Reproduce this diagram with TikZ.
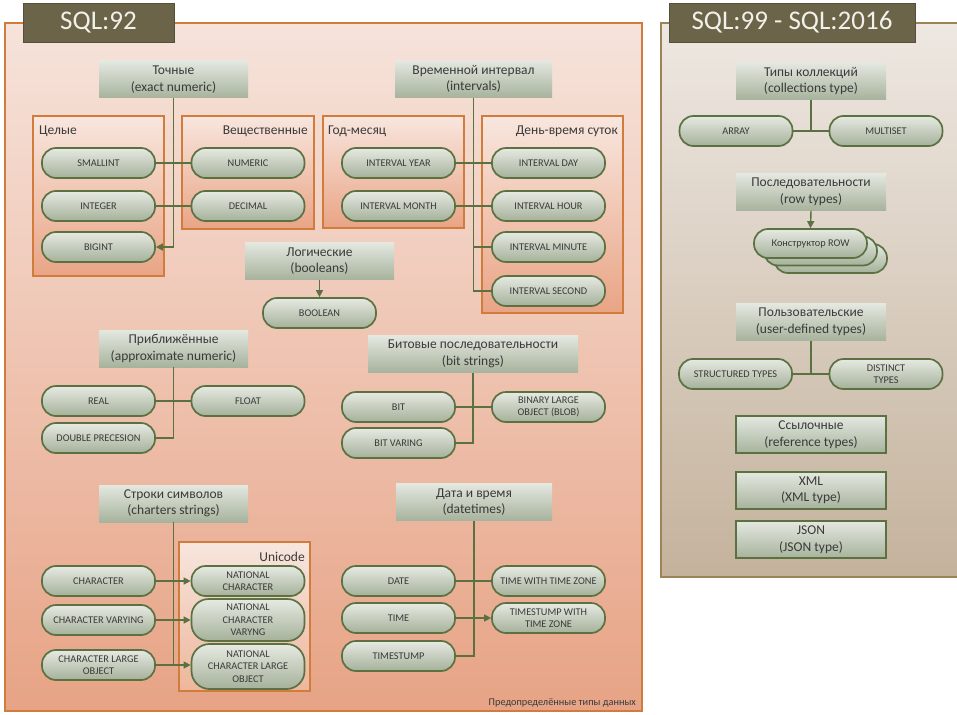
\documentclass[tikz,border=0pt]{standalone}
\usepackage{fontspec}
\setmainfont{Carlito}
\usetikzlibrary{arrows.meta}
\definecolor{lpTop}{HTML}{F6E3DB}
\definecolor{lpBot}{HTML}{E7A385}
\definecolor{orangeLn}{HTML}{D17C3C}
\definecolor{ibTop}{HTML}{F8E6DE}
\definecolor{ibBot}{HTML}{E9A485}
\definecolor{ucTop}{HTML}{F7E6DE}
\definecolor{ucBot}{HTML}{EDB69B}
\definecolor{rpTop}{HTML}{EEE8E2}
\definecolor{rpBot}{HTML}{C4B29C}
\definecolor{brownLn}{HTML}{9C8458}
\definecolor{titleBg}{HTML}{6B6448}
\definecolor{titleTx}{HTML}{F2F0EA}
\definecolor{greenLn}{HTML}{5B7142}
\definecolor{pillTop}{HTML}{E6EAE2}
\definecolor{pillBot}{HTML}{A5B19A}
\definecolor{hdrTop}{HTML}{E4E8E0}
\definecolor{hdrBot}{HTML}{A7B39D}
\definecolor{txtDark}{HTML}{3A3A3A}
\tikzset{
  pill/.style={rectangle, rounded corners=14pt, draw=greenLn, line width=1.7pt,
    top color=pillTop, bottom color=pillBot, minimum width=113pt, minimum height=30pt,
    inner sep=1pt, align=center, text=txtDark, font=\fontsize{10.3}{12.5}\selectfont},
  hdr/.style={rectangle, top color=hdrTop, bottom color=hdrBot, minimum width=149pt,
    minimum height=37pt, inner sep=1pt, align=center, text=txtDark,
    font=\fontsize{13.5}{16.5}\selectfont},
  hdrb/.style={hdr, draw=greenLn, line width=1.5pt},
  ibox/.style={draw=orangeLn, line width=1.5pt, top color=ibTop, bottom color=ibBot},
  titlebox/.style={rectangle, fill=titleBg, draw=titleBg!80!black, line width=0.6pt,
    minimum height=39pt, text=titleTx, font=\fontsize{27}{30}\selectfont},
  grp/.style={text=txtDark, font=\fontsize{13.5}{15}\selectfont, inner sep=0pt},
  conn/.style={draw=greenLn, line width=1.4pt},
  arr/.style={conn, -{Triangle[length=7pt,width=7pt]}}
}
\begin{document}
\begin{tikzpicture}[x=1pt,y=-1pt]
\useasboundingbox (0,0) rectangle (957,714);
\fill[white] (0,0) rectangle (957,714);
% panels
\draw[orangeLn, line width=1.6pt, top color=lpTop, bottom color=lpBot] (5,23) rectangle (642,711);
\draw[brownLn, line width=1.6pt, top color=rpTop, bottom color=rpBot] (661,23) rectangle (970,577);
\node[titlebox, minimum width=151pt] (t92) at (98.5,22.5) {SQL:92};
\node[titlebox, minimum width=246pt] (t99) at (792,22.5) {SQL:99 - SQL:2016};
% inner group boxes
\path[ibox] (33,116) rectangle (164,276);
\path[ibox] (182,116) rectangle (314,229);
\path[ibox] (323,116) rectangle (464,228);
\path[ibox] (482,116) rectangle (623,313);
\path[draw=orangeLn, line width=1.5pt, top color=ucTop, bottom color=ucBot] (179,542) rectangle (310,691);
\node[grp, anchor=west] (gint) at (39,131) {Целые};
\node[grp, anchor=east] (greal) at (308,131) {Вещественные};
\node[grp, anchor=west] (gym) at (328,131) {Год-месяц};
\node[grp, anchor=east] (gdt) at (618,131) {День-время суток};
\node[grp, anchor=east] (guc) at (305,557) {Unicode};
\node[text=txtDark, font=\fontsize{10.3}{12}\selectfont, anchor=east, inner sep=0pt] (foot) at (636,703) {Предопределённые типы данных};
% exact numeric
\node[hdr] (exact) at (173.5,79.5) {Точные\\(exact numeric)};
\node[pill] (smallint) at (98.5,163) {SMALLINT};
\node[pill] (integer) at (98.5,206) {INTEGER};
\node[pill] (bigint) at (98.5,247) {BIGINT};
\node[pill] (numeric) at (248,163) {NUMERIC};
\node[pill] (decimal) at (248,206) {DECIMAL};
% intervals
\node[hdr, minimum width=157pt] (intv) at (473.5,79) {Временной интервал\\(intervals)};
\node[pill] (iyear) at (398.5,163) {INTERVAL YEAR};
\node[pill] (imonth) at (398.5,206) {INTERVAL MONTH};
\node[pill] (iday) at (548.5,163) {INTERVAL DAY};
\node[pill] (ihour) at (548.5,206) {INTERVAL HOUR};
\node[pill] (imin) at (548.5,247) {INTERVAL MINUTE};
\node[pill] (isec) at (548.5,291) {INTERVAL SECOND};
% booleans
\node[hdr] (logic) at (319.5,261) {Логические\\(booleans)};
\node[pill] (boolean) at (319.5,313) {BOOLEAN};
% approximate
\node[hdr] (approx) at (173.5,348.5) {Приближённые\\(approximate numeric)};
\node[pill] (real) at (98.5,401) {REAL};
\node[pill] (float) at (248,401) {FLOAT};
\node[pill] (double) at (98.5,438) {DOUBLE PRECESION};
% bit strings
\node[hdr, minimum width=210pt] (bits) at (473,354) {Битовые последовательности\\(bit strings)};
\node[pill] (bit) at (398.5,407) {BIT};
\node[pill] (blob) at (548.5,407) {BINARY LARGE\\OBJECT (BLOB)};
\node[pill] (bitvar) at (398.5,443) {BIT VARING};
% character strings
\node[hdr] (strs) at (173.5,503.5) {Строки символов\\(charters strings)};
\node[pill] (chr) at (98.5,581) {CHARACTER};
\node[pill] (chrvar) at (98.5,620) {CHARACTER VARYING};
\node[pill] (clo) at (98.5,665) {CHARACTER LARGE\\OBJECT};
\node[pill] (nchr) at (248,581) {NATIONAL\\CHARACTER};
\node[pill, minimum height=42pt, rounded corners=17pt] (nchrvar) at (248,620) {NATIONAL\\CHARACTER\\VARYNG};
\node[pill, minimum height=45pt, rounded corners=18pt] (nclo) at (248,666.5) {NATIONAL\\CHARACTER LARGE\\OBJECT};
% datetimes
\node[hdr, minimum width=156pt] (dt) at (474,502) {Дата и время\\(datetimes)};
\node[pill] (date) at (398.5,581) {DATE};
\node[pill] (time) at (398.5,618) {TIME};
\node[pill] (tstump) at (398.5,656) {TIMESTUMP};
\node[pill] (twtz) at (548.5,581) {TIME WITH TIME ZONE};
\node[pill] (tswtz) at (548.5,618) {TIMESTUMP WITH\\TIME ZONE};
% right panel
\node[hdr, minimum width=150pt] (coll) at (811,81) {Типы коллекций\\(collections type)};
\node[pill] (array) at (736,131) {ARRAY};
\node[pill] (multiset) at (886,131) {MULTISET};
\node[hdr, minimum width=150pt] (rowt) at (811,192) {Последовательности\\(row types)};
\node[pill, minimum height=29pt] (row3) at (830.5,258.5) {};
\node[pill, minimum height=29pt] (row2) at (820.5,251) {};
\node[pill, minimum height=29pt] (row) at (810.5,243.5) {Конструктор ROW};
\node[hdr, minimum width=150pt] (udt) at (811,322) {Пользовательские\\(user-defined types)};
\node[pill] (struct) at (735.5,374) {STRUCTURED TYPES};
\node[pill] (distinct) at (886,374) {DISTINCT\\TYPES};
\node[hdrb, minimum width=150pt] (ref) at (811,434.5) {Ссылочные\\(reference types)};
\node[hdrb, minimum width=150pt] (xml) at (811,490.5) {XML\\(XML type)};
\node[hdrb, minimum width=150pt] (json) at (811,539.5) {JSON\\(JSON type)};
% connectors
\draw[arr] (exact.south) |- (bigint.east);
\draw[conn] (smallint.east) -- (numeric.west);
\draw[conn] (integer.east) -- (decimal.west);
\draw[conn] (intv.south) |- (isec.west);
\draw[conn] (intv.south |- imin.west) -- (imin.west);
\draw[conn] (iyear.east) -- (iday.west);
\draw[conn] (imonth.east) -- (ihour.west);
\draw[arr] (logic.south) -- (boolean.north);
\draw[conn] (approx.south) |- (double.east);
\draw[conn] (real.east) -- (float.west);
\draw[conn] (bits.south) |- (bitvar.east);
\draw[conn] (bit.east) -- (blob.west);
\draw[conn] (strs.south) -- (strs.south |- clo.east);
\draw[arr] (chr.east) -- (nchr.west);
\draw[arr] (chrvar.east) -- (nchrvar.west);
\draw[arr] (clo.east) -- (nclo.west |- clo.east);
\draw[conn] (dt.south) |- (tstump.east);
\draw[conn] (date.east) -- (twtz.west);
\draw[arr] (time.east) -- (tswtz.west);
\draw[conn] (coll.south) -- (coll.south |- array.east);
\draw[conn] (array.east) -- (multiset.west);
\draw[arr] (rowt.south) -- (row.north);
\draw[conn] (udt.south) -- (udt.south |- struct.east);
\draw[conn] (struct.east) -- (distinct.west);
\end{tikzpicture}
\end{document}
